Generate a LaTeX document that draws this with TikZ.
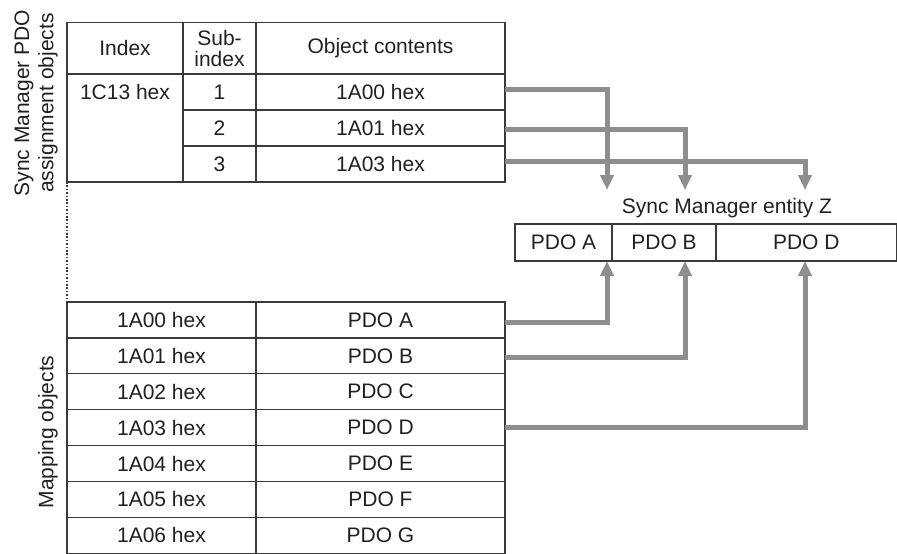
\documentclass[tikz,border=0pt]{standalone}
\usepackage{fontspec}
\setmainfont{Liberation Sans}
\usetikzlibrary{arrows.meta}
\definecolor{linec}{HTML}{3A3A3A}
\definecolor{arrc}{HTML}{8D8E90}
\definecolor{txtc}{HTML}{231F20}
\begin{document}
\begin{tikzpicture}[x=1pt,y=-1pt,
  txt/.style={text=txtc, font=\fontsize{21}{21}\selectfont, inner sep=0pt, align=center},
  cell/.style={txt, draw=linec, line width=1.2pt, outer sep=0pt, anchor=north west},
  arr/.style={draw=arrc, line width=5pt, -{Triangle[width=13pt,length=15pt]}}]
\useasboundingbox (0,0) rectangle (897,554);

% side labels
\node[txt, rotate=90] (lab1) at (24,103) {Sync Manager PDO};
\node[txt, rotate=90] (lab2) at (48,103) {assignment objects};
\node[txt, rotate=90] (lab3) at (48,432) {Mapping objects};

% upper table
\node[cell, minimum width=116pt, minimum height=51.5pt] (h1) at (67,22.5) {Index};
\node[cell, minimum width=73pt, minimum height=51.5pt] (h2) at (183,22.5) {Sub-\\index};
\node[cell, minimum width=249pt, minimum height=51.5pt] (h3) at (256,22.5) {Object contents};
\node[cell, minimum width=116pt, minimum height=108pt] (ix) at (67,74) {};
\node[txt] (ixt) at (125,92) {1C13 hex};
\node[cell, minimum width=73pt, minimum height=36pt] (s1) at (183,74) {1};
\node[cell, minimum width=73pt, minimum height=36pt] (s2) at (183,110) {2};
\node[cell, minimum width=73pt, minimum height=36pt] (s3) at (183,146) {3};
\node[cell, minimum width=249pt, minimum height=36pt] (o1) at (256,74) {1A00 hex};
\node[cell, minimum width=249pt, minimum height=36pt] (o2) at (256,110) {1A01 hex};
\node[cell, minimum width=249pt, minimum height=36pt] (o3) at (256,146) {1A03 hex};

% lower table
\foreach \i/\a/\b in {0/1A00 hex/PDO A,1/1A01 hex/PDO B,2/1A02 hex/PDO C,3/1A03 hex/PDO D,4/1A04 hex/PDO E,5/1A05 hex/PDO F,6/1A06 hex/PDO G}{
  \pgfmathsetmacro\yy{302+35.9*\i}
  \node[cell, minimum width=189pt, minimum height=35.9pt] (ml\i) at (67,\yy) {\a};
  \node[cell, minimum width=249pt, minimum height=35.9pt] (mr\i) at (256,\yy) {\b};
}

% dotted connector between tables
\draw[linec, line width=1.6pt, dash pattern=on 1.6pt off 1.8pt] (ix.south west) -- (ml0.north west);

% entity
\node[txt] (ez) at (727,208) {Sync Manager entity Z};
\node[cell, minimum width=97pt, minimum height=37pt] (ea) at (515,224) {PDO A};
\node[cell, minimum width=104pt, minimum height=37pt] (eb) at (612,224) {PDO B};
\node[cell, minimum width=180.5pt, minimum height=37pt] (ed) at (716,224) {PDO D};

% arrow end points
\coordinate (ta) at (607,190);
\coordinate (tb) at (685,190);
\coordinate (td) at (805,190);
\coordinate (ba) at (607,261);
\coordinate (bb) at (685,261);
\coordinate (bd) at (805,261);

\draw[arr] ([yshift=3pt]o1.east) -| (ta);
\draw[arr] ([yshift=-1pt]o2.east) -| (tb);
\draw[arr] ([yshift=3pt]o3.east) -| (td);
\draw[arr] ([yshift=-2.7pt]mr0.east) -| (ba);
\draw[arr] ([yshift=-2pt]mr1.east) -| (bb);
\draw[arr] (mr3.east) -| (bd);
\end{tikzpicture}
\end{document}
